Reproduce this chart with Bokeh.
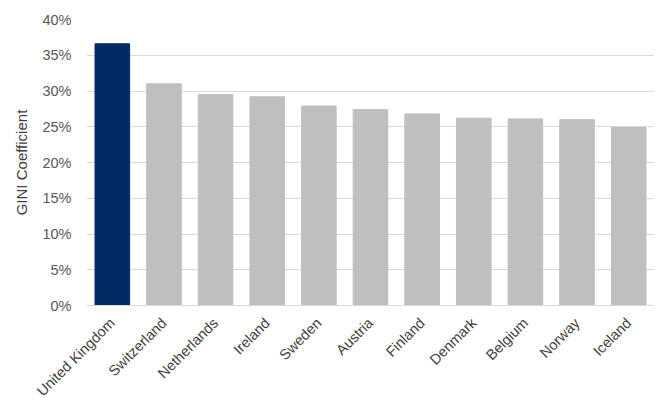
from bokeh.plotting import figure
from bokeh.models import ColumnDataSource, FixedTicker, NumeralTickFormatter, Range1d, Title
from bokeh.embed import file_html
from bokeh.resources import INLINE
import math

countries = ["United Kingdom", "Switzerland", "Netherlands", "Ireland", "Sweden",
             "Austria", "Finland", "Denmark", "Belgium", "Norway", "Iceland"]
gini = [0.366, 0.310, 0.295, 0.292, 0.279, 0.274, 0.268, 0.262, 0.261, 0.260, 0.249]
bar_colors = ["#002B66"] + ["#BFBFBF"] * 10
y_ticks = [0.0, 0.05, 0.10, 0.15, 0.20, 0.25, 0.30, 0.35, 0.40]
y_title = "GINI Coefficient"

src = ColumnDataSource(dict(country=countries, gini=gini, color=bar_colors))

p = figure(x_range=countries, y_range=Range1d(0, 0.40),
           frame_width=568, frame_height=286,
           output_backend="svg", toolbar_location=None,
           min_border_left=84, min_border_right=0, min_border_top=19, min_border_bottom=0)
p.vbar(x="country", top="gini", width=0.67, color="color", source=src)

p.outline_line_color = None
p.xgrid.grid_line_color = None
p.ygrid.grid_line_color = "#D9D9D9"
p.ygrid.grid_line_width = 1

p.yaxis.ticker = FixedTicker(ticks=y_ticks)
p.yaxis.formatter = NumeralTickFormatter(format="0%")
p.yaxis.axis_line_color = None
p.yaxis.major_tick_line_color = None
p.yaxis.minor_tick_line_color = None
p.yaxis.major_label_text_font = "Liberation Sans"
p.yaxis.major_label_text_font_size = "14.5px"
p.yaxis.major_label_text_color = "#595959"
p.yaxis.major_label_standoff = 9

ttl = Title(text=y_title, align="center", offset=-18, standoff=20,
            text_font="Liberation Sans", text_font_size="15px",
            text_font_style="normal", text_color="#404040")
p.add_layout(ttl, "left")

p.xaxis.axis_line_color = "#D9D9D9"
p.xaxis.major_tick_line_color = None
p.xaxis.minor_tick_line_color = None
p.xaxis.major_label_orientation = math.pi / 4
p.xaxis.major_label_text_font = "Liberation Sans"
p.xaxis.major_label_text_font_size = "14.5px"
p.xaxis.major_label_text_color = "#404040"
p.xaxis.major_label_standoff = 9

open("out.html", "w").write(file_html(p, INLINE))
